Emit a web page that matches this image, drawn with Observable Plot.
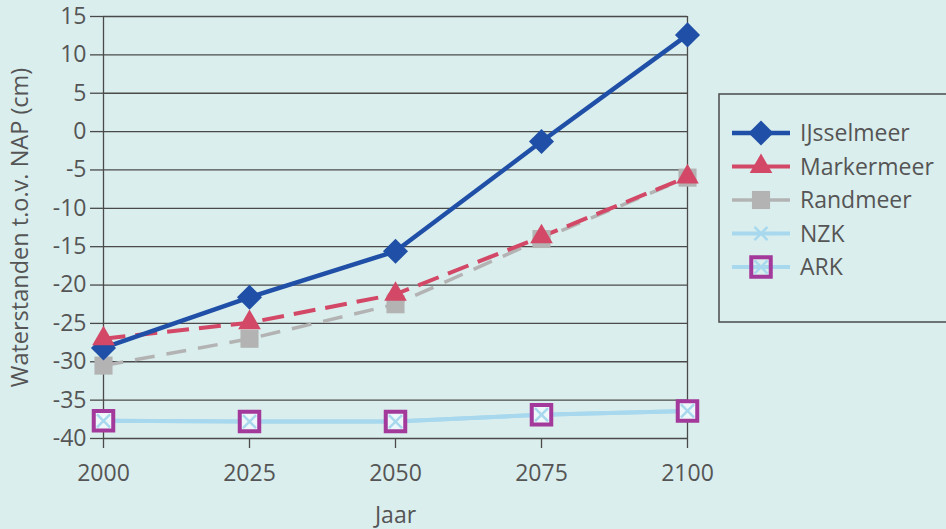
<!DOCTYPE html>
<html>
<head>
<meta charset="utf-8">
<script src="https://cdn.jsdelivr.net/npm/d3@7"></script>
<script src="https://cdn.jsdelivr.net/npm/@observablehq/plot@0.6"></script>
<style>
  html, body { margin: 0; padding: 0; background: #daeeed; }
  #wrap { position: relative; width: 946px; height: 529px; overflow: hidden; background: #daeeed; font-family: "Open Sans", Lato, sans-serif; }
  #legend { position: absolute; left: 718px; top: 93px; }
</style>
</head>
<body>
<div id="wrap"><div id="chart"></div><div id="legend"></div></div>
<script>
// ---- data ----
const years = [2000, 2025, 2050, 2075, 2100];
const seriesNames = ["IJsselmeer", "Markermeer", "Randmeer", "NZK", "ARK"];
const ijsselmeer = [-28.2, -21.6, -15.6, -1.3, 12.6];
const markermeer = [-27, -24.9, -21.2, -13.7, -5.9];
const randmeer = [-30.5, -27, -22.5, -14, -6];
const nzk = [-37.7, -37.8, -37.8, -36.9, -36.4];
const ark = [-37.7, -37.8, -37.8, -36.9, -36.4];
const yTicks = [15, 10, 5, 0, -5, -10, -15, -20, -25, -30, -35, -40];
const xLabel = "Jaar";
const yLabel = "Waterstanden t.o.v. NAP (cm)";

// ---- styles ----
const FONT = "'Open Sans', Lato, sans-serif";
const values = [ijsselmeer, markermeer, randmeer, nzk, ark];
const styles = {
  IJsselmeer: {stroke: "#1f4fa6", width: 4.5, dash: null, symbol: "diamond2", r: 11.3, fill: "#1f4fa6", mstroke: "none", msw: 0},
  Markermeer: {stroke: "#d24866", width: 4, dash: "22,10", symbol: "triangle", r: 8.4, fill: "#d24866", mstroke: "none", msw: 0},
  Randmeer:   {stroke: "#b3b3b3", width: 3.5, dash: "20,12", symbol: "square", r: 10.2, fill: "#b3b3b3", mstroke: "none", msw: 0},
  NZK:        {stroke: "#a8d8ee", width: 4, dash: null, symbol: "times", r: 6, fill: "none", mstroke: "#a8d8ee", msw: 2.5},
  ARK:        {stroke: "#a8d8ee", width: 4, dash: null, symbol: "square", r: 11, fill: "#eef8fa", mstroke: "#a3399a", msw: 4}
};

const rows = [];
seriesNames.forEach((s, i) => years.forEach((y, j) => rows.push({series: s, year: y, value: values[i][j]})));
const of = s => rows.filter(d => d.series === s);

const lineMark = s => Plot.line(of(s), {x: "year", y: "value", stroke: styles[s].stroke, strokeWidth: styles[s].width, strokeDasharray: styles[s].dash, strokeLinecap: "butt"});
const dotMark = s => Plot.dot(of(s), {x: "year", y: "value", symbol: styles[s].symbol, r: styles[s].r, fill: styles[s].fill, stroke: styles[s].mstroke, strokeWidth: styles[s].msw});

const chart = Plot.plot({
  width: 946,
  height: 529,
  marginLeft: 103,
  marginRight: 259,
  marginTop: 16,
  marginBottom: 91,
  style: {background: "transparent", fontFamily: FONT, color: "#555"},
  x: {domain: [2000, 2100]},
  y: {domain: [-40, 15]},
  marks: [
    Plot.ruleY(yTicks, {stroke: "#4a4a4a", strokeWidth: 1.3}),
    Plot.ruleX([2000, 2100], {y1: -40, y2: 15, stroke: "#4a4a4a", strokeWidth: 1.3}),
    Plot.axisY({ticks: yTicks, tickSize: 13, tickPadding: 4, tickFormat: d => String(d), label: null, stroke: "#4a4a4a", strokeWidth: 1.3, fill: "#555", fontSize: 23}),
    Plot.axisX({ticks: years, tickSize: 10, tickPadding: 16, tickFormat: d => String(d), label: null, stroke: "#4a4a4a", strokeWidth: 1.3, fill: "#555", fontSize: 23}),
    Plot.text([yLabel], {frameAnchor: "left", rotate: -90, dx: -83, textAnchor: "middle", lineAnchor: "middle", fontSize: 23.5, fill: "#555"}),
    Plot.text([xLabel], {frameAnchor: "bottom", dy: 77, textAnchor: "middle", lineAnchor: "middle", fontSize: 23, fill: "#555"}),
    lineMark("NZK"), lineMark("ARK"),
    lineMark("Randmeer"), lineMark("Markermeer"), lineMark("IJsselmeer"),
    dotMark("ARK"), dotMark("NZK"),
    dotMark("Randmeer"), dotMark("IJsselmeer"), dotMark("Markermeer")
  ]
});
document.getElementById("chart").appendChild(chart);

// ---- legend ----
const symMap = {diamond2: d3.symbolDiamond2, triangle: d3.symbolTriangle, square: d3.symbolSquare, times: d3.symbolTimes};
const lg = d3.select("#legend").append("svg").attr("width", 240).attr("height", 232)
  .style("font-family", FONT);
lg.append("rect").attr("x", 1).attr("y", 1).attr("width", 260).attr("height", 228)
  .attr("fill", "none").attr("stroke", "#4a4a4a").attr("stroke-width", 1.5);
seriesNames.forEach((s, i) => {
  const st = styles[s];
  const g = lg.append("g").attr("transform", `translate(0, ${40 + i * 33.5})`);
  g.append("line").attr("x1", 14).attr("x2", 72).attr("y1", 0).attr("y2", 0)
    .attr("stroke", st.stroke).attr("stroke-width", st.width);
  if (s === "ARK") {
    g.append("path").attr("transform", "translate(43,0)").attr("d", d3.symbol(symMap.times, Math.PI * 36)())
      .attr("fill", "none").attr("stroke", "#a8d8ee").attr("stroke-width", 2.5);
  }
  g.append("path").attr("transform", "translate(43,0)")
    .attr("d", d3.symbol(symMap[st.symbol], Math.PI * st.r * st.r)())
    .attr("fill", s === "ARK" ? "none" : st.fill).attr("stroke", st.mstroke).attr("stroke-width", st.msw);
  g.append("text").attr("x", 82).attr("y", 0).attr("dy", "0.35em")
    .attr("font-size", 23).attr("fill", "#555").text(s);
});
</script>
</body>
</html>
